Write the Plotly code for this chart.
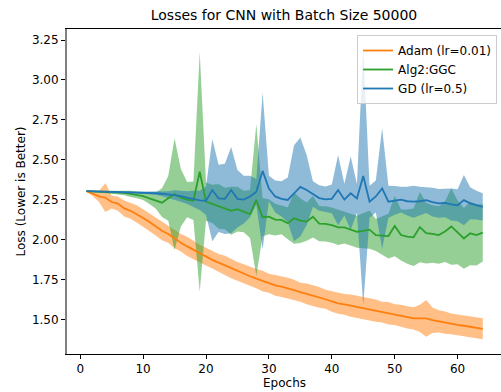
import plotly.graph_objects as go

epochs = list(range(1, 65))

adam_mean = [2.303, 2.288, 2.270, 2.262, 2.235, 2.225, 2.195, 2.180, 2.160, 2.135,
             2.110, 2.080, 2.055, 2.035, 2.005, 1.980, 1.957, 1.935, 1.912, 1.893,
             1.873, 1.855, 1.838, 1.818, 1.800, 1.786, 1.770, 1.755, 1.740, 1.726,
             1.713, 1.705, 1.695, 1.683, 1.670, 1.660, 1.648, 1.638, 1.626, 1.612,
             1.600, 1.594, 1.586, 1.578, 1.570, 1.563, 1.555, 1.545, 1.538, 1.530,
             1.522, 1.512, 1.506, 1.506, 1.506, 1.495, 1.487, 1.480, 1.472, 1.465,
             1.460, 1.453, 1.447, 1.441]
adam_std = [0.003, 0.015, 0.035, 0.090, 0.040, 0.045, 0.050, 0.050, 0.055, 0.055,
            0.055, 0.055, 0.060, 0.055, 0.060, 0.055, 0.060, 0.055, 0.055, 0.055,
            0.055, 0.055, 0.060, 0.060, 0.060, 0.060, 0.060, 0.060, 0.065, 0.060,
            0.065, 0.065, 0.065, 0.065, 0.060, 0.065, 0.065, 0.065, 0.060, 0.065,
            0.065, 0.065, 0.070, 0.070, 0.070, 0.070, 0.070, 0.065, 0.070, 0.065,
            0.070, 0.070, 0.070, 0.085, 0.115, 0.080, 0.070, 0.070, 0.065, 0.065,
            0.065, 0.065, 0.065, 0.066]

ggc_mean = [2.303, 2.301, 2.299, 2.298, 2.297, 2.296, 2.293, 2.286, 2.279, 2.272,
            2.258, 2.245, 2.231, 2.258, 2.285, 2.262, 2.250, 2.243, 2.425, 2.238,
            2.224, 2.208, 2.195, 2.180, 2.190, 2.175, 2.160, 2.248, 2.140, 2.143,
            2.125, 2.123, 2.102, 2.133, 2.118, 2.112, 2.143, 2.100, 2.098, 2.090,
            2.076, 2.076, 2.062, 2.049, 2.055, 2.062, 2.028, 2.025, 2.022, 2.085,
            2.028, 2.018, 2.014, 2.078, 2.040, 2.035, 2.028, 2.050, 2.082, 2.045,
            2.007, 2.039, 2.028, 2.043]
ggc_std = [0.002, 0.004, 0.006, 0.008, 0.010, 0.012, 0.015, 0.020, 0.020, 0.025,
           0.035, 0.050, 0.090, 0.140, 0.350, 0.180, 0.110, 0.120, 0.750, 0.120,
           0.120, 0.140, 0.130, 0.150, 0.140, 0.130, 0.150, 0.475, 0.120, 0.110,
           0.100, 0.090, 0.100, 0.160, 0.140, 0.120, 0.130, 0.110, 0.110, 0.110,
           0.110, 0.100, 0.100, 0.100, 0.110, 0.120, 0.100, 0.120, 0.140, 0.190,
           0.160, 0.170, 0.180, 0.220, 0.190, 0.180, 0.180, 0.190, 0.240, 0.200,
           0.190, 0.200, 0.190, 0.180]

gd_mean = [2.303, 2.302, 2.301, 2.300, 2.300, 2.299, 2.298, 2.297, 2.296, 2.295,
           2.293, 2.290, 2.287, 2.283, 2.279, 2.272, 2.262, 2.255, 2.245, 2.243,
           2.310, 2.258, 2.255, 2.310, 2.255, 2.250, 2.270, 2.300, 2.430, 2.320,
           2.270, 2.255, 2.248, 2.290, 2.330, 2.310, 2.285, 2.260, 2.252, 2.255,
           2.310, 2.250, 2.290, 2.258, 2.398, 2.237, 2.270, 2.320, 2.237, 2.245,
           2.250, 2.240, 2.237, 2.240, 2.247, 2.235, 2.227, 2.230, 2.220, 2.215,
           2.247, 2.227, 2.215, 2.205]
gd_std = [0.002, 0.002, 0.003, 0.003, 0.003, 0.004, 0.004, 0.005, 0.005, 0.006,
          0.008, 0.010, 0.015, 0.020, 0.030, 0.035, 0.040, 0.050, 0.060, 0.090,
          0.320, 0.210, 0.220, 0.270, 0.180, 0.150, 0.130, 0.080, 0.490, 0.080,
          0.100, 0.110, 0.140, 0.300, 0.310, 0.220, 0.080, 0.080, 0.080, 0.090,
          0.220, 0.100, 0.230, 0.090, 0.810, 0.100, 0.100, 0.377, 0.100, 0.090,
          0.080, 0.090, 0.100, 0.090, 0.080, 0.090, 0.090, 0.090, 0.100, 0.100,
          0.157, 0.100, 0.090, 0.085]

series = [
    ("Adam (lr=0.01)", adam_mean, adam_std, "#ff7f0e", "rgba(255,127,14,0.5)"),
    ("Alg2:GGC", ggc_mean, ggc_std, "#2ca02c", "rgba(44,160,44,0.5)"),
    ("GD (lr=0.5)", gd_mean, gd_std, "#1f77b4", "rgba(31,119,180,0.5)"),
]

FONT = "DejaVu Sans"
fig = go.Figure()

# bands
for name, m, s, col, fcol in series:
    up = [a + b for a, b in zip(m, s)]
    lo = [a - b for a, b in zip(m, s)]
    fig.add_trace(go.Scatter(
        x=epochs + epochs[::-1], y=up + lo[::-1], fill="toself",
        fillcolor=fcol, line=dict(width=0), mode="lines",
        showlegend=False, hoverinfo="skip"))

# mean lines
for name, m, s, col, fcol in series:
    fig.add_trace(go.Scatter(x=epochs, y=m, mode="lines", name=name,
                             line=dict(color=col, width=1.8)))

fig.update_layout(
    width=501, height=392,
    margin=dict(l=67, r=0, t=29, b=38),
    paper_bgcolor="white", plot_bgcolor="white",
    font=dict(family=FONT, size=12, color="#000000"),
    title=dict(text="Losses for CNN with Batch Size 50000",
               x=(284 / 501), xanchor="center", xref="container",
               y=1 - 15.5 / 392, yanchor="middle", yref="container",
               font=dict(family=FONT, size=14, color="#000000")),
    legend=dict(x=0.991, y=0.9815, xanchor="right", yanchor="top",
                bgcolor="rgba(255,255,255,0.8)", bordercolor="#cccccc",
                borderwidth=1, font=dict(family=FONT, size=12),
                tracegroupgap=0, itemwidth=30),
    showlegend=True,
)

fig.update_xaxes(
    range=[-2.1, 66.9], tickmode="array", tickvals=[0, 10, 20, 30, 40, 50, 60],
    showgrid=False, zeroline=False, showline=True, linecolor="black",
    linewidth=1, mirror=True, ticks="outside", ticklen=4, tickwidth=1,
    tickcolor="black", tickfont=dict(family=FONT, size=12, color="#000000"))
fig.update_yaxes(
    range=[1.283, 3.319], tickmode="array",
    tickvals=[1.5, 1.75, 2.0, 2.25, 2.5, 2.75, 3.0, 3.25],
    ticktext=["1.50", "1.75", "2.00", "2.25", "2.50", "2.75", "3.00", "3.25"],
    showgrid=False, zeroline=False, showline=True, linecolor="#808080",
    linewidth=2, mirror=False, ticks="outside", ticklen=4, tickwidth=1,
    tickcolor="black", tickfont=dict(family=FONT, size=12, color="#000000"))

fig.add_annotation(text="Epochs", xref="paper", yref="paper", x=0.5,
                   y=(354 - 383) / 325, xanchor="center", yanchor="middle",
                   showarrow=False, font=dict(family=FONT, size=12, color="#000000"))
fig.add_annotation(text="Loss (Lower is Better)", xref="paper", yref="paper",
                   x=(20 - 67) / 434, y=0.5, xanchor="center", yanchor="middle",
                   textangle=-90, showarrow=False,
                   font=dict(family=FONT, size=12, color="#000000"))

fig.write_html("out.html")
